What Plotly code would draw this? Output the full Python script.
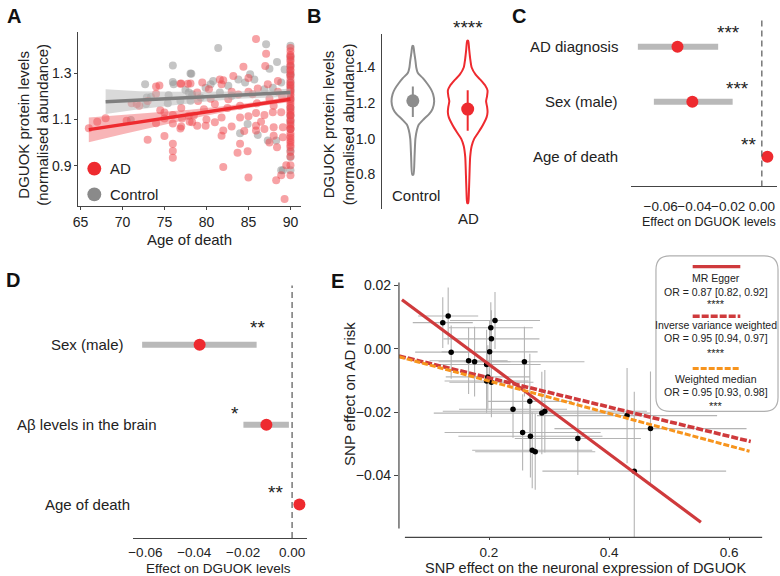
import plotly.graph_objects as go

W, H = 780, 576
FONT = "Liberation Sans, Arial, sans-serif"
RED = "#ee2a2f"
GRAY = "#8c8c8c"
TXT = "#222222"
AXC = "#444444"

# ---------------- Panel A: DGUOK vs age of death ----------------
ad_age = [74.0, 74.0, 72.0, 71.1, 68.0, 67.0, 66.0, 73.0, 75.0, 76.0, 76.0, 76.0, 76.9, 77.8,
          75.0, 76.0, 76.9, 74.0, 77.1, 77.9, 75.0, 77.0, 78.0, 77.0, 76.0, 74.5, 73.0, 70.5,
          71.7, 74.4, 77.0,
          85.9, 87.1, 87.0, 84.4, 83.2, 81.6, 81.8, 80.3, 78.9, 78.1, 88.5, 87.3, 86.1, 85.0,
          83.8, 82.6, 81.0, 79.7, 78.5, 78.3, 78.9, 79.9, 81.0, 81.8, 84.0, 85.0, 85.9, 86.9,
          87.9, 88.9, 81.8, 82.0, 84.0, 83.7, 84.9, 82.0, 85.0, 88.3, 85.9, 85.9, 86.9, 88.0,
          88.0, 89.1, 89.1, 88.4, 89.5, 89.3, 88.9,
          83.0, 80.5, 82.5, 84.0, 86.0, 87.5, 85.0, 79.0, 80.0, 83.0, 84.5, 86.5, 87.5, 85.5,
          88.0, 89.0, 88.5, 82.0, 79.5,
          90, 90, 90, 90, 90, 90, 90, 90, 90, 90, 90, 90, 90, 90, 90, 90, 90, 90, 90, 90, 90, 90, 90,
          90, 90, 90, 90, 90, 90, 90, 90, 90, 90, 90, 90, 90, 90, 90, 90, 90, 90, 90, 90, 90, 90, 90]
ad_val = [1.243, 1.212, 1.160, 1.170, 1.105, 1.090, 1.062, 1.012, 1.028, 0.995, 0.963, 0.934, 1.255, 1.255,
          1.104, 1.083, 1.061, 1.084, 1.104, 1.116, 1.130, 1.070, 1.090, 1.150, 1.120, 1.140, 1.180, 1.095,
          1.167, 1.247, 1.256,
          1.449, 1.385, 1.332, 1.329, 1.289, 1.274, 1.253, 1.231, 1.217, 1.256, 1.267, 1.253, 1.234, 1.220,
          1.208, 1.188, 1.167, 1.145, 1.117, 1.088, 1.073, 1.073, 1.088, 1.109, 1.109, 1.114, 1.128, 1.119,
          1.131, 1.131, 1.030, 1.052, 0.995, 0.956, 0.962, 0.894, 0.848, 0.837, 1.073, 1.052, 1.059, 1.030,
          1.066, 1.066, 1.023, 0.980, 0.901, 0.755, 0.858,
          1.220, 1.190, 1.150, 1.160, 1.170, 1.190, 1.280, 1.180, 1.100, 1.070, 1.050, 1.090, 1.000, 1.210,
          1.160, 1.200, 1.220, 1.270, 1.260,
          1.396, 1.374, 1.353, 1.339, 1.317, 1.296, 1.274, 1.245, 1.224, 1.202, 1.181, 1.159, 1.138, 1.116,
          1.095, 1.073, 1.059, 1.030, 1.009, 0.988, 0.959, 0.901, 0.858,
          1.410, 1.380, 1.360, 1.330, 1.310, 1.290, 1.260, 1.250, 1.230, 1.210, 1.190, 1.170, 1.150, 1.130,
          1.120, 1.100, 1.080, 1.060, 1.040, 1.020, 1.000, 0.980, 0.940]
ctrl_age = [76.0, 76.0, 72.7, 78.1, 72.9, 71.0, 75.5, 75.4, 77.5, 77.9, 76.9, 78.3, 72.8, 73.4, 76.1,
            81.4, 87.1, 78.2, 88.4, 87.5, 85.2, 83.8, 82.6, 80.8, 80.5, 78.3, 78.1, 79.3, 84.0, 84.9,
            86.1, 87.3, 89.1, 84.6, 85.7, 86.9, 87.9, 88.9, 83.0, 81.6, 79.9, 89.3, 88.3, 88.9,
            90, 90, 90, 90, 90, 90, 90, 90, 90, 90, 90, 90, 90, 90, 90, 90]
ctrl_val = [1.334, 1.263, 1.253, 1.300, 1.195, 1.098, 1.205, 1.171, 1.228, 1.217, 1.181, 1.203, 1.167, 1.198, 1.253,
            1.410, 1.426, 1.299, 1.349, 1.320, 1.296, 1.274, 1.246, 1.267, 1.253, 1.210, 1.181, 1.195, 1.040, 1.081,
            1.033, 1.009, 0.880, 1.260, 1.274, 1.231, 1.238, 1.260, 1.203, 1.217, 1.238, 1.317, 1.009, 0.880,
            1.420, 1.332, 1.289, 1.238, 1.116, 1.059, 0.966, 0.937, 0.880, 1.370, 1.300, 1.260, 1.220, 1.190,
            1.150, 1.090]

fit_age_ad = [66, 70, 74, 78, 82, 86, 90]
fit_ad = [1.056, 1.078, 1.100, 1.122, 1.144, 1.166, 1.188]
fit_ad_lo = [1.001, 1.036, 1.070, 1.102, 1.131, 1.156, 1.176]
fit_ad_hi = [1.109, 1.120, 1.130, 1.142, 1.157, 1.176, 1.200]
fit_age_ctrl = [68, 72, 76, 80, 84, 88, 90]
fit_ctrl = [1.177, 1.184, 1.192, 1.199, 1.206, 1.213, 1.217]
fit_ctrl_lo = [1.124, 1.145, 1.163, 1.178, 1.190, 1.197, 1.199]
fit_ctrl_hi = [1.231, 1.223, 1.220, 1.220, 1.222, 1.229, 1.235]

# ---------------- Panel B: violins ----------------
vio_groups = ["Control", "AD"]
vio_levels_ctrl = [1.52, 1.48, 1.44, 1.40, 1.37, 1.34, 1.31, 1.28, 1.25, 1.21, 1.17, 1.14, 1.11, 1.08, 1.05, 1.00, 0.90, 0.80]
vio_dens_ctrl = [0.02, 0.07, 0.12, 0.16, 0.23, 0.47, 0.67, 0.84, 0.95, 1.00, 0.93, 0.77, 0.51, 0.28, 0.19, 0.12, 0.08, 0.03]
vio_levels_ad = [1.55, 1.50, 1.45, 1.40, 1.36, 1.33, 1.30, 1.27, 1.24, 1.21, 1.18, 1.15, 1.12, 1.09, 1.06, 1.03,
                 1.00, 0.96, 0.90, 0.80, 0.70, 0.64]
vio_dens_ad = [0.025, 0.075, 0.125, 0.2, 0.4, 0.65, 0.875, 1.0, 0.975, 0.925, 0.975, 1.0, 0.95, 0.825, 0.675, 0.5,
               0.325, 0.2, 0.125, 0.09, 0.06, 0.025]
vio_median = [1.213, 1.167]
vio_q1 = [1.122, 1.046]
vio_q3 = [1.294, 1.272]

# ---------------- Panel C / D: forest plots ----------------
c_labels = ["AD diagnosis", "Sex (male)", "Age of death"]
c_est = [-0.0500, -0.0412, 0.0033]
c_lo = [-0.0735, -0.0640, 0.0025]
c_hi = [-0.0259, -0.0173, 0.0041]
c_stars = ["***", "***", "**"]

d_labels = ["Sex (male)", "Aβ levels in the brain", "Age of death"]
d_est = [-0.0378, -0.0105, 0.0030]
d_lo = [-0.0613, -0.0199, 0.0022]
d_hi = [-0.0145, -0.0013, 0.0038]
d_stars = ["**", "*", "**"]

# ---------------- Panel E: Mendelian randomisation ----------------
snp_x = [0.123, 0.132, 0.137, 0.166, 0.176, 0.203, 0.204, 0.210, 0.201, 0.196, 0.198, 0.196, 0.204,
         0.259, 0.240, 0.268, 0.256, 0.269, 0.288, 0.293, 0.272, 0.277, 0.348, 0.430, 0.469, 0.442]
snp_y = [0.0082, 0.0103, -0.0011, -0.0038, -0.0041, 0.0066, 0.0031, 0.0089, -0.0010, -0.0050, -0.0089,
         -0.0102, -0.0106, -0.0041, -0.0191, -0.0166, -0.0264, -0.0276, -0.0203, -0.0197, -0.0320,
         -0.0325, -0.0283, -0.0211, -0.0252, -0.0386]
snp_x_err = [0.050, 0.050, 0.060, 0.065, 0.060, 0.070, 0.080, 0.075, 0.080, 0.090, 0.070, 0.070, 0.070,
             0.100, 0.090, 0.070, 0.130, 0.120, 0.180, 0.170, 0.100, 0.100, 0.105, 0.150, 0.160, 0.153]
snp_y_err = [0.0080, 0.0090, 0.0084, 0.0105, 0.0110, 0.0080, 0.0090, 0.0090, 0.0100, 0.0110, 0.0100,
             0.0100, 0.0110, 0.0110, 0.0090, 0.0150, 0.0120, 0.0130, 0.0130, 0.0130, 0.0120, 0.0120,
             0.0115, 0.0150, 0.0180, 0.0250]
mr_methods = ["MR Egger", "Inverse variance weighted", "Weighted median"]
mr_or_text = ["OR = 0.87 [0.82, 0.92]", "OR = 0.95 [0.94, 0.97]", "OR = 0.95 [0.93, 0.98]"]
mr_stars = ["****", "****", "***"]
mr_slope = [-0.1409, -0.0460, -0.0510]
mr_intercept = [0.0232, 0.0, 0.0]
mr_x_start = [0.055, 0.050, 0.050]
mr_x_end = [0.553, 0.636, 0.634]

# ======================================================================
def fx(px):
    return px / W


def fy(py):
    return 1 - py / H


fig = go.Figure()

# ---- A ----
fig.add_trace(go.Scatter(x=ctrl_age, y=ctrl_val, mode="markers", xaxis="x", yaxis="y",
                         marker=dict(size=8, color="rgba(150,150,150,0.55)", line=dict(width=0)),
                         showlegend=False))
fig.add_trace(go.Scatter(x=ad_age, y=ad_val, mode="markers", xaxis="x", yaxis="y",
                         marker=dict(size=8, color="rgba(240,70,75,0.5)", line=dict(width=0)),
                         showlegend=False))
fig.add_trace(go.Scatter(x=fit_age_ctrl + fit_age_ctrl[::-1], y=fit_ctrl_hi + fit_ctrl_lo[::-1],
                         fill="toself", fillcolor="rgba(185,185,185,0.55)", line=dict(width=0),
                         mode="lines", xaxis="x", yaxis="y", showlegend=False, hoverinfo="skip"))
fig.add_trace(go.Scatter(x=fit_age_ad + fit_age_ad[::-1], y=fit_ad_hi + fit_ad_lo[::-1],
                         fill="toself", fillcolor="rgba(240,90,95,0.45)", line=dict(width=0),
                         mode="lines", xaxis="x", yaxis="y", showlegend=False, hoverinfo="skip"))
fig.add_trace(go.Scatter(x=fit_age_ctrl, y=fit_ctrl, mode="lines", xaxis="x", yaxis="y",
                         line=dict(color="#7f7f7f", width=3.5), showlegend=False))
fig.add_trace(go.Scatter(x=fit_age_ad, y=fit_ad, mode="lines", xaxis="x", yaxis="y",
                         line=dict(color=RED, width=3.5), showlegend=False))

# ---- B ----
vio_half = [0.389, 0.362]  # max half-width in category units
vio_col = [GRAY, RED]
for i, (lev, den) in enumerate([(vio_levels_ctrl, vio_dens_ctrl), (vio_levels_ad, vio_dens_ad)]):
    xs = [i + d * vio_half[i] for d in den] + [i - d * vio_half[i] for d in den[::-1]]
    ys = list(lev) + list(lev[::-1])
    xs.append(xs[0])
    ys.append(ys[0])
    fig.add_trace(go.Scatter(x=xs, y=ys, mode="lines", xaxis="x2", yaxis="y2",
                             line=dict(color=vio_col[i], width=2, shape="spline", smoothing=0.6),
                             showlegend=False))
    fig.add_trace(go.Scatter(x=[i, i], y=[vio_q1[i], vio_q3[i]], mode="lines", xaxis="x2", yaxis="y2",
                             line=dict(color=vio_col[i], width=2), showlegend=False))
    fig.add_trace(go.Scatter(x=[i], y=[vio_median[i]], mode="markers", xaxis="x2", yaxis="y2",
                             marker=dict(size=13, color=vio_col[i]), showlegend=False))

# ---- C / D ----
def forest(est, lo, hi, xa, ya):
    n = len(est)
    ypos = [n - 1 - k for k in range(n)]
    xs, ys = [], []
    for k in range(n):
        xs += [lo[k], hi[k], None]
        ys += [ypos[k], ypos[k], None]
    fig.add_trace(go.Scatter(x=xs, y=ys, mode="lines", xaxis=xa, yaxis=ya,
                             line=dict(color="#b9b9b9", width=6), showlegend=False))
    fig.add_trace(go.Scatter(x=est, y=ypos, mode="markers", xaxis=xa, yaxis=ya,
                             marker=dict(size=12, color=RED), showlegend=False))

forest(c_est, c_lo, c_hi, "x3", "y3")
forest(d_est, d_lo, d_hi, "x4", "y4")

# ---- E ----
fig.add_trace(go.Scatter(x=snp_x, y=snp_y, mode="markers", xaxis="x5", yaxis="y5",
                         marker=dict(size=5.5, color="black"),
                         error_x=dict(type="data", array=snp_x_err, color="#b4b4b4", thickness=1.1, width=0),
                         error_y=dict(type="data", array=snp_y_err, color="#b4b4b4", thickness=1.1, width=0),
                         showlegend=False))
mr_style = [dict(color="#cf3a3c", width=3.2),
            dict(color="#cf3a3c", width=3.6, dash="7px,2px"),
            dict(color="#f7941d", width=3.0, dash="6px,2px")]
for k in range(3):
    xx = [mr_x_start[k], mr_x_end[k]]
    yy = [mr_intercept[k] + mr_slope[k] * v for v in xx]
    fig.add_trace(go.Scatter(x=xx, y=yy, mode="lines", xaxis="x5", yaxis="y5",
                             line=mr_style[k], showlegend=False))

# ======================================================================
tick_font = dict(family=FONT, size=14, color=TXT)


def ax(domain_px, rng, **kw):
    d = dict(domain=[fx(domain_px[0]), fx(domain_px[1])], range=rng, showgrid=False, zeroline=False,
             tickfont=tick_font, linecolor=AXC, linewidth=1.2, tickcolor=AXC, tickangle=0)
    d.update(kw)
    return d


def ayy(domain_px, rng, **kw):
    d = dict(domain=[fy(domain_px[1]), fy(domain_px[0])], range=rng, showgrid=False, zeroline=False,
             tickfont=tick_font, linecolor=AXC, linewidth=1.2, tickcolor=AXC)
    d.update(kw)
    return d


layout = dict(
    width=W, height=H, margin=dict(l=0, r=0, t=0, b=0),
    paper_bgcolor="white", plot_bgcolor="white", font=dict(family=FONT, color=TXT),
    showlegend=False,
    xaxis=ax([73, 297], [64.764, 91.22], anchor="y", showline=True, ticks="outside", ticklen=3,
             tickvals=[65, 70, 75, 80, 85, 90]),
    yaxis=ayy([27, 203], [0.7237, 1.4806], anchor="x", showline=True, ticks="outside", ticklen=3,
              tickvals=[0.9, 1.1, 1.3], tickformat=".1f"),
    xaxis2=ax([379, 500], [-0.5605, 1.628], anchor="y2", visible=False),
    yaxis2=ayy([29, 206], [0.6056, 1.589], anchor="x2", showline=True, ticks="outside", ticklen=3,
               tickcolor="white", tickvals=[0.8, 1.0, 1.2, 1.4], tickformat=".1f"),
    xaxis3=ax([630, 777], [-0.07747, 0.0090], anchor="y3", showline=True, ticks="outside", ticklen=7,
              tickcolor="rgba(0,0,0,0)", tickvals=[-0.06, -0.04, -0.02, 0.0], tickformat=".2f",
              tickfont=dict(family=FONT, size=13.5, color=TXT)),
    yaxis3=ayy([14, 183], [-0.54, 2.505], anchor="x3", visible=False),
    xaxis4=ax([128, 303], [-0.06503, 0.00596], anchor="y4", showline=True, ticks="outside", ticklen=2,
              tickcolor="rgba(0,0,0,0)", tickvals=[-0.06, -0.04, -0.02, 0.0], tickformat=".2f",
              tickfont=dict(family=FONT, size=13.5, color=TXT)),
    yaxis4=ayy([283, 537.7], [-0.418, 2.740], anchor="x4", visible=False),
    xaxis5=ax([396, 762], [0.05, 0.655], anchor="y5", showline=False, ticks="outside", ticklen=2,
              tickvals=[0.2, 0.4, 0.6], tickformat=".1f", tickfont=dict(family=FONT, size=13.5, color=TXT)),
    yaxis5=ayy([280, 537], [-0.05947, 0.02084], anchor="x5", showline=False, ticks="outside", ticklen=4,
               tickvals=[-0.04, -0.02, 0.0, 0.02], tickformat=".2f"),
)

shapes = []
# zero lines in C and D
shapes.append(dict(type="line", xref="x3", yref="paper", x0=0, x1=0, y0=fy(183), y1=fy(14),
                   line=dict(color="#555", width=1.2, dash="6px,4px")))
shapes.append(dict(type="line", xref="x4", yref="paper", x0=0, x1=0, y0=fy(537.7), y1=fy(283),
                   line=dict(color="#555", width=1.2, dash="6px,4px")))
# E axis lines (offset style)
shapes.append(dict(type="line", xref="paper", yref="paper", x0=fx(396), x1=fx(396), y0=fy(528), y1=fy(280),
                   line=dict(color=AXC, width=1.2)))
shapes.append(dict(type="line", xref="paper", yref="paper", x0=fx(402), x1=fx(762), y0=fy(537), y1=fy(537),
                   line=dict(color=AXC, width=1.2)))
# A legend markers
for yy, col in [(165, RED), (191, "#8a8a8a")]:
    shapes.append(dict(type="circle", xref="paper", yref="paper", x0=fx(82), x1=fx(96), y0=fy(yy + 7),
                       y1=fy(yy - 7), fillcolor=col, line=dict(width=0)))
# E legend box (rounded)
bx0, bx1, by0, by1, r = fx(655), fx(778), fy(410), fy(253), 14
rx, ry = r / W, r / H
path = (f"M {bx0+rx},{by1} L {bx1-rx},{by1} Q {bx1},{by1} {bx1},{by1-ry} "
        f"L {bx1},{by0+ry} Q {bx1},{by0} {bx1-rx},{by0} L {bx0+rx},{by0} Q {bx0},{by0} {bx0},{by0+ry} "
        f"L {bx0},{by1-ry} Q {bx0},{by1} {bx0+rx},{by1} Z")
shapes.append(dict(type="path", xref="paper", yref="paper", path=path, fillcolor="white",
                   line=dict(color="#b0b0b0", width=1.2), layer="above"))
leg_line_y = [264, 314, 366.7]
for k in range(3):
    st = dict(mr_style[k])
    shapes.append(dict(type="line", xref="paper", yref="paper", x0=fx(692), x1=fx(740),
                       y0=fy(leg_line_y[k]), y1=fy(leg_line_y[k]), line=st, layer="above"))
layout["shapes"] = shapes


def ann(text, x, y, size=15, xanchor="center", yanchor="middle", angle=0, color=TXT, bold=False):
    if bold:
        text = "<b>" + text + "</b>"
    return dict(text=text, x=fx(x), y=fy(y), xref="paper", yref="paper", showarrow=False,
                xanchor=xanchor, yanchor=yanchor, textangle=angle,
                font=dict(family=FONT, size=size, color=color))


anns = []
# panel letters
for t, x, y in [("A", 8, 11), ("B", 310, 11), ("C", 517, 11), ("D", 7, 277), ("E", 334, 278)]:
    anns.append(ann(t, x, y, size=20, bold=True, color="#111"))
# A
anns.append(ann("DGUOK protein levels<br>(normalised abundance)", 28, 121, angle=-90))
anns.append(ann("Age of death", 185, 237))
anns.append(ann("AD", 103, 165, xanchor="left"))
anns.append(ann("Control", 103, 191, xanchor="left"))
# B
anns.append(ann("DGUOK protein levels<br>(normalised abundance)", 336, 120, angle=-90))
anns.append(ann(vio_groups[0], 413, 192))
anns.append(ann(vio_groups[1], 466, 215))
anns.append(ann("****", 466, 23, size=19))
# C
for k, lab in enumerate(c_labels):
    anns.append(ann(lab, 619, [42, 97, 153][k], xanchor="right"))
for k, (sx, sy) in enumerate([(728, 30), (736.7, 86), (748, 143)]):
    anns.append(ann(c_stars[k], sx, sy - 2, size=19))
anns.append(ann("Effect on DGUOK levels", 708, 219, size=12.5))
# D
for k, lab in enumerate(d_labels):
    anns.append(ann(lab, 82, [342.7, 423.3, 504][k]))
for k, (sx, sy) in enumerate([(253, 326), (231, 413), (271.7, 492.3)]):
    anns.append(ann(d_stars[k], sx, sy - 1, size=19))
anns.append(ann("Effect on DGUOK levels", 214, 568.5, size=13.5))
# E
anns.append(ann("SNP effect on AD risk", 346, 392, angle=-90))
anns.append(ann("SNP effect on the neuronal expression of DGUOK", 584, 567.5, size=14.5))
leg_rows = [(275, 290, 301), (323.3, 336, 350), (377.7, 390, 404)]
for k in range(3):
    a, b, c = leg_rows[k]
    anns.append(ann(mr_methods[k], 716, a, size=10.5))
    anns.append(ann(mr_or_text[k], 716, b, size=10.5))
    anns.append(ann(mr_stars[k], 716, c + 1, size=11))
layout["annotations"] = anns

fig.update_layout(**layout)
fig.write_html("out.html")
